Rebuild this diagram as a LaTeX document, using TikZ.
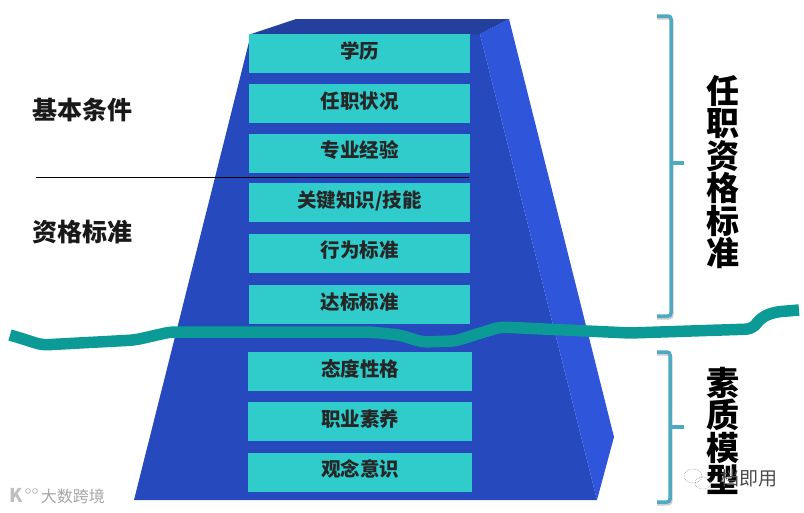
\documentclass[tikz,border=0pt]{standalone}
\usepackage{fontspec}
\setmainfont{Noto Sans CJK SC}
\usepackage{xcolor}
\usetikzlibrary{arrows.meta,positioning}
\definecolor{frontblue}{HTML}{2749BE}
\definecolor{sideblue}{HTML}{2E55DA}
\definecolor{topblue}{HTML}{23409F}
\definecolor{boxteal}{HTML}{30CCCC}
\definecolor{riverteal}{HTML}{0B9A96}
\definecolor{bracketblue}{HTML}{4FA9C2}
\begin{document}
\begin{tikzpicture}[
    x=1pt, y=-1pt, node distance=10.5pt,
    level_box/.style={rectangle, fill=boxteal, minimum width=221pt, minimum height=39pt, inner sep=0pt, text height=14pt, text depth=5pt, font=\fontsize{19.5}{19.5}\selectfont\bfseries, text=black!85},
    low_box/.style={level_box, minimum width=224pt},
    side_lbl/.style={font=\fontsize{25}{25}\selectfont\bfseries, text=black!90, inner sep=0pt},
    tall_lbl/.style={font=\fontsize{33}{32.5}\selectfont\bfseries, align=center, inner sep=0pt, text=black},
    mark_lbl/.style={font=\fontsize{16}{16}\selectfont, text=black!35, inner sep=0pt},
    bracket_line/.style={draw=bracketblue, line width=3.5pt, rounded corners=3pt},
    bracket_shade/.style={draw=black!20, line width=3pt, rounded corners=3pt}
]
    \useasboundingbox (0,0) rectangle (804,512);

    % Pyramid Faces
    \fill[frontblue] (251,34) -- (480,34) -- (597,500) -- (134,500) -- cycle;
    \fill[sideblue] (480,34) -- (509,19) -- (614,437) -- (597,500) -- cycle;
    \fill[topblue] (251,34) -- (296,19) -- (509,19) -- (480,34) -- cycle;

    % Level Boxes
    \node[level_box] (XL) at (359.5,53.5) {学历};
    \node[level_box, below=11pt of XL] (RZ) {任职状况};
    \node[level_box, below=10pt of RZ] (ZY) {专业经验};
    \node[level_box, below=10pt of ZY] (GJ) {关键知识/技能};
    \node[level_box, below=11pt of GJ] (XW) {行为标准};
    \node[level_box, below=12pt of XW] (DB) {达标标准};
    \node[low_box] (TD) at (360,371.5) {态度性格};
    \node[low_box, below=11pt of TD] (ZS) {职业素养};
    \node[low_box, below=11pt of ZS] (GN) {观念意识};

    % Left Labels
    \node[side_lbl] (JB) at (82,110) {基本条件};
    \node[side_lbl] (ZG) at (82,232) {资格标准};
    \draw[black, line width=0.8pt] (36,177) -- (469,177);

    % River
    \draw[riverteal, line width=11.5pt, line join=round, rounded corners=6pt]
        (10,335) -- (20,338) -- (42,345) -- (135,340) -- (170,332) -- (370,332)
        -- (400,335) -- (422,342) -- (455,341) -- (500,327) -- (630,333)
        -- (752,329) -- (762,317) -- (775,312) -- (799,310);

    % Brackets
    \draw[bracket_shade] (657,18) -- (672,18) -- (672,318) -- (657,318);
    \draw[bracket_line] (657,16) -- (671,16) -- (671,316) -- (657,316);
    \draw[bracket_line] (671,163) -- (684,163);
    \draw[bracket_shade] (657,354) -- (671,354) -- (671,504) -- (657,504);
    \draw[bracket_line] (657,352) -- (670,352) -- (670,502) -- (657,502);
    \draw[bracket_line] (670,427) -- (684,427);

    % Right Labels
    \node[tall_lbl] (RZZG) at (723,172) {任\\职\\资\\格\\标\\准};
    \node[tall_lbl] (SZMX) at (723,431) {素\\质\\模\\型};

    % Watermarks
    \node[mark_lbl] (DS) at (73,496) {大数跨境};
    \node[font=\fontsize{19}{19}\selectfont\bfseries, text=black!25, inner sep=0pt] (KK) at (16,495) {K};
    \draw[black!30, line width=0.7pt] (28,491) circle (2.4pt) (35,491) circle (2.4pt);
    \node[mark_lbl, font=\fontsize{19}{19}\selectfont, text=black!70] (DJY) at (749,478) {档即用};
    \draw[black!40, line width=0.6pt, densely dotted] (693,476) ellipse (9pt and 7pt) (703,483) ellipse (8pt and 6pt);
\end{tikzpicture}
\end{document}
